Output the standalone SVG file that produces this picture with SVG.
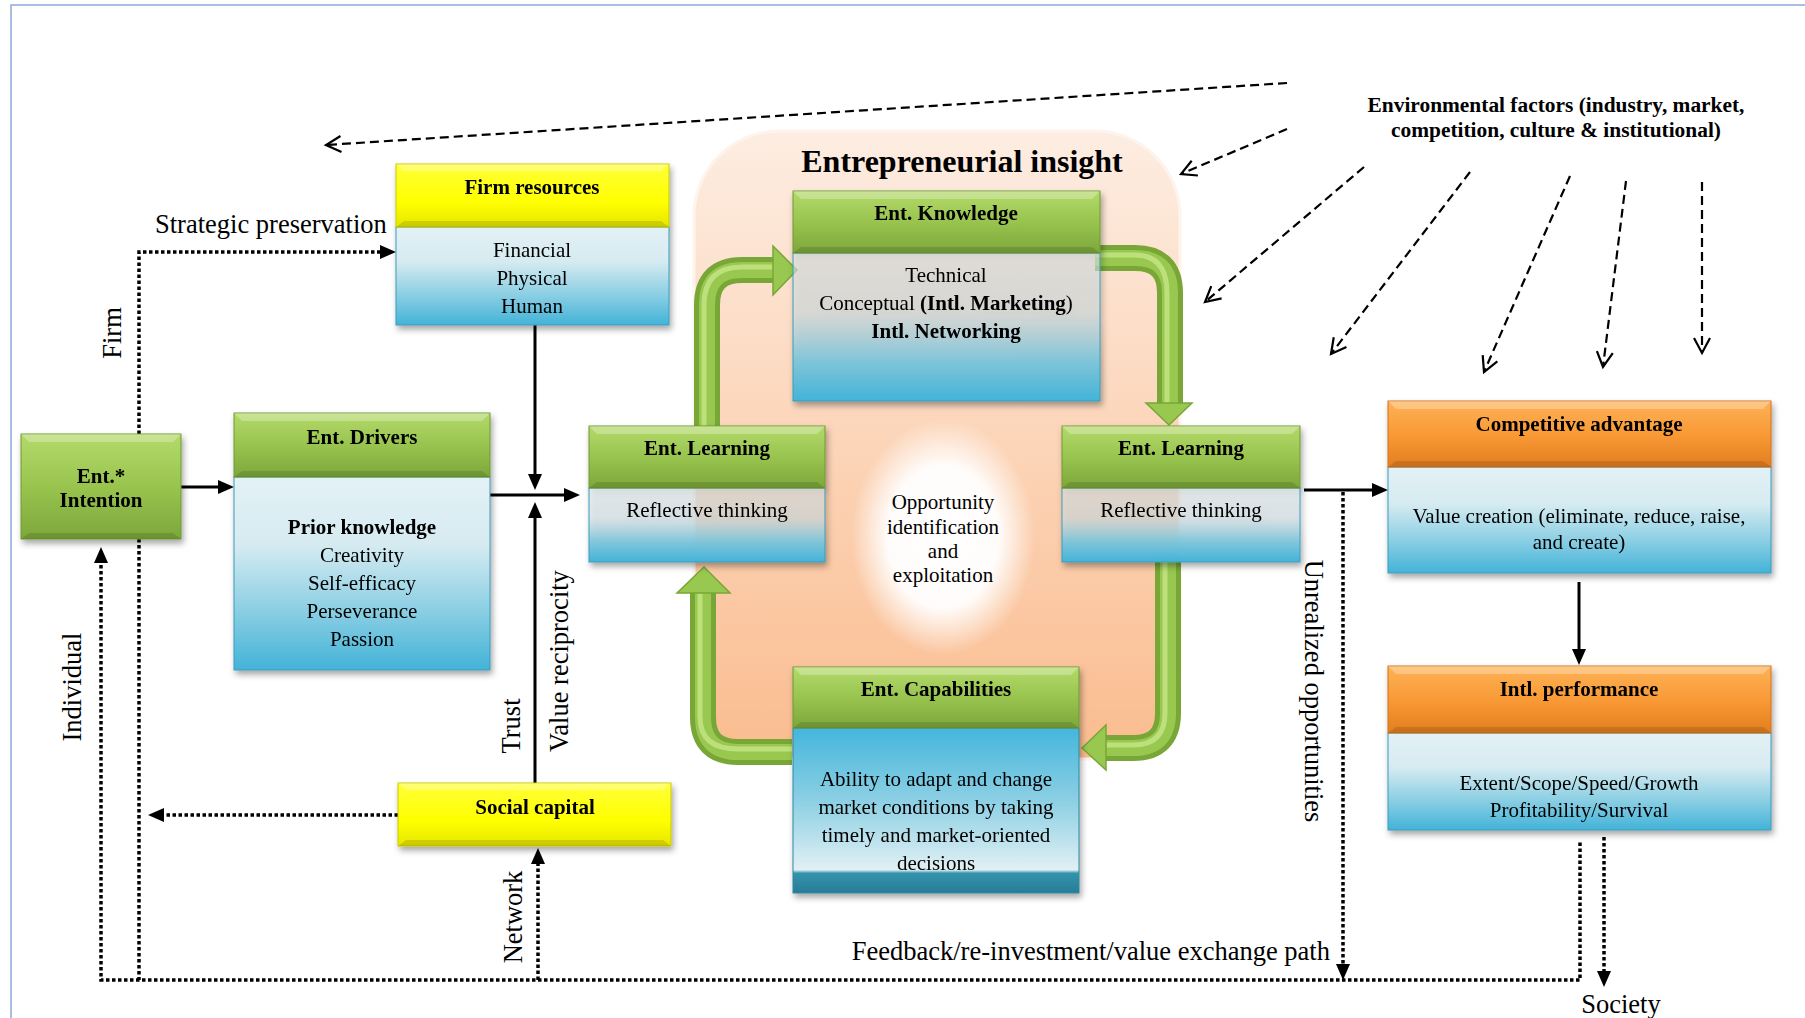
<svg xmlns="http://www.w3.org/2000/svg" width="1805" height="1018" viewBox="0 0 1805 1018">
  <defs>
    <linearGradient id="gGreen" x1="0" y1="0" x2="0" y2="1">
      <stop offset="0" stop-color="#B4DA6A"/>
      <stop offset="0.5" stop-color="#98C44F"/>
      <stop offset="1" stop-color="#7DA73B"/>
    </linearGradient>
    <linearGradient id="gYellow" x1="0" y1="0" x2="0" y2="1">
      <stop offset="0" stop-color="#FFFF3A"/>
      <stop offset="0.6" stop-color="#FFFF00"/>
      <stop offset="1" stop-color="#E6E600"/>
    </linearGradient>
    <linearGradient id="gOrange" x1="0" y1="0" x2="0" y2="1">
      <stop offset="0" stop-color="#FDB257"/>
      <stop offset="0.5" stop-color="#F99A36"/>
      <stop offset="1" stop-color="#E37E20"/>
    </linearGradient>
    <linearGradient id="gBlue" x1="0" y1="0" x2="0" y2="1">
      <stop offset="0" stop-color="#E3F1F5"/>
      <stop offset="0.35" stop-color="#D6EBF1"/>
      <stop offset="0.7" stop-color="#89CEE3"/>
      <stop offset="1" stop-color="#43B3D8"/>
    </linearGradient>
    <linearGradient id="gBlueWarm" x1="0" y1="0" x2="0" y2="1">
      <stop offset="0" stop-color="#DCE6E8" stop-opacity="0.55"/>
      <stop offset="0.4" stop-color="#D2E0E4" stop-opacity="0.6"/>
      <stop offset="0.72" stop-color="#7FC6DB" stop-opacity="0.95"/>
      <stop offset="1" stop-color="#42B3D8"/>
    </linearGradient>
    <linearGradient id="gBlueRev" x1="0" y1="0" x2="0" y2="1">
      <stop offset="0" stop-color="#44B6DC"/>
      <stop offset="0.45" stop-color="#8ED0E4"/>
      <stop offset="0.86" stop-color="#E1F0F4"/>
      <stop offset="0.88" stop-color="#3493AD"/>
      <stop offset="1" stop-color="#287C95"/>
    </linearGradient>
    <linearGradient id="gPeach" x1="0" y1="0" x2="0" y2="1">
      <stop offset="0" stop-color="#FDEDE2"/>
      <stop offset="0.45" stop-color="#FCD7BC"/>
      <stop offset="1" stop-color="#FABC8F"/>
    </linearGradient>
    <radialGradient id="gGlow" cx="0.5" cy="0.5" r="0.5">
      <stop offset="0" stop-color="#FFFFFF" stop-opacity="1"/>
      <stop offset="0.6" stop-color="#FFFFFF" stop-opacity="0.95"/>
      <stop offset="1" stop-color="#FFFFFF" stop-opacity="0"/>
    </radialGradient>
    <filter id="shadow" x="-10%" y="-10%" width="125%" height="135%">
      <feDropShadow dx="2" dy="4" stdDeviation="3" flood-color="#000" flood-opacity="0.35"/>
    </filter>
    <marker id="head" markerUnits="userSpaceOnUse" markerWidth="16" markerHeight="14" viewBox="0 0 16 14" refX="4" refY="7" orient="auto">
      <path d="M0,0 L16,7 L0,14 z" fill="#000"/>
    </marker>
    <marker id="vhead" markerUnits="userSpaceOnUse" markerWidth="20" markerHeight="20" viewBox="0 0 20 20" refX="17" refY="10" orient="auto">
      <path d="M2,2 L17,10 L2,18" fill="none" stroke="#000" stroke-width="2.2"/>
    </marker>
  </defs>
  <style>
    .hdrG { fill: url(#gGreen); stroke: #6F9A33; stroke-width: 1; }
    .hdrY { fill: url(#gYellow); stroke: #C9C900; stroke-width: 1; }
    .hdrO { fill: url(#gOrange); stroke: #D0731C; stroke-width: 1; }
    .body { fill: url(#gBlue); stroke: #3A9CBC; stroke-width: 1; }
    .bodyW { fill: url(#gBlueWarm); stroke: #3A9CBC; stroke-width: 1; }
    .bodyR { fill: url(#gBlueRev); stroke: #2E88A2; stroke-width: 1; }
    .hi { fill: #FFFFFF; opacity: 0.28; }
    .lo { fill: #000000; opacity: 0.12; }
    text { font-family: "Liberation Serif", "Times New Roman", serif; fill: #000; }
    .t { font-size: 21px; font-weight: bold; text-anchor: middle; }
    .b { font-size: 21px; text-anchor: middle; }
    .bb { font-size: 21px; font-weight: bold; text-anchor: middle; }
    .lab { font-size: 26.5px; }
    .solid { fill: none; stroke: #000; stroke-width: 3; }
    .dot { fill: none; stroke: #000; stroke-width: 3.5; stroke-dasharray: 3.5 2.5; }
    .dash { fill: none; stroke: #000; stroke-width: 2.2; stroke-dasharray: 9 5; }
    .rib1 { fill: none; stroke: #78A637; stroke-width: 26; }
    .rib2 { fill: none; stroke: #98C84F; stroke-width: 16; }
    .rib3 { fill: none; stroke: #BDE07C; stroke-width: 5; }
    .ribHead { fill: #98C84F; stroke: #78A637; stroke-width: 1.5; }
  </style>

  <!-- page frame -->
  <path d="M11,1018 V5 H1805" fill="none" stroke="#8EA9DB" stroke-width="1.5"/>

  <!-- entrepreneurial insight container -->
  <g id="insight">
    <rect x="694" y="131" width="486" height="628" rx="85" ry="85" fill="url(#gPeach)" stroke="#FFF4EC" stroke-width="3"/>
    <ellipse cx="943" cy="537" rx="92" ry="118" fill="url(#gGlow)"/>
    <text x="962" y="172" style="font-size:32px;font-weight:bold;text-anchor:middle">Entrepreneurial insight</text>
  </g>

  <!-- learning cycle ribbons -->
  <g id="cycle">
    <path class="rib1" d="M707,430 V305 Q707,270 742,270 H777"/>
    <path class="rib2" d="M707,430 V305 Q707,270 742,270 H777"/>
    <path class="rib3" d="M704,430 V305 Q704,267 742,267 H777"/>
    <polygon class="ribHead" points="773,246 797,270 773,295"/>

    <path class="rib1" d="M1095,258 H1135 Q1170,258 1170,293 V405"/>
    <path class="rib2" d="M1095,258 H1135 Q1170,258 1170,293 V405"/>
    <path class="rib3" d="M1095,255 H1135 Q1167,255 1167,293 V405"/>
    <polygon class="ribHead" points="1146,403 1192,403 1169,425"/>

    <path class="rib1" d="M1168,555 V713 Q1168,748 1133,748 H1104"/>
    <path class="rib2" d="M1168,555 V713 Q1168,748 1133,748 H1104"/>
    <path class="rib3" d="M1165,555 V713 Q1165,745 1133,745 H1104"/>
    <polygon class="ribHead" points="1106,725 1106,770 1082,748"/>

    <path class="rib1" d="M792,752 H738 Q703,752 703,717 V591"/>
    <path class="rib2" d="M792,752 H738 Q703,752 703,717 V591"/>
    <path class="rib3" d="M792,749 H738 Q700,749 700,717 V591"/>
    <polygon class="ribHead" points="677,593 730,593 704,567"/>
  </g>

  <!-- connectors -->
  <g id="connectors">
    <!-- environmental influences -->
    <line class="dash" x1="1287" y1="83" x2="326" y2="145" marker-end="url(#vhead)"/>
    <line class="dash" x1="1287" y1="129" x2="1181" y2="174" marker-end="url(#vhead)"/>
    <line class="dash" x1="1364" y1="167" x2="1205" y2="302" marker-end="url(#vhead)"/>
    <line class="dash" x1="1470" y1="172" x2="1331" y2="354" marker-end="url(#vhead)"/>
    <line class="dash" x1="1570" y1="176" x2="1484" y2="372" marker-end="url(#vhead)"/>
    <line class="dash" x1="1626" y1="181" x2="1603" y2="367" marker-end="url(#vhead)"/>
    <line class="dash" x1="1702" y1="182" x2="1702" y2="353" marker-end="url(#vhead)"/>

    <!-- solid flows -->
    <line class="solid" x1="181" y1="487" x2="222" y2="487" marker-end="url(#head)"/>
    <line class="solid" x1="490" y1="495" x2="568" y2="495" marker-end="url(#head)"/>
    <line class="solid" x1="535" y1="325" x2="535" y2="478" marker-end="url(#head)"/>
    <line class="solid" x1="535" y1="783" x2="535" y2="514" marker-end="url(#head)"/>
    <line class="solid" x1="1304" y1="490" x2="1376" y2="490" marker-end="url(#head)"/>
    <line class="solid" x1="1579" y1="582" x2="1579" y2="653" marker-end="url(#head)"/>

    <!-- dotted feedback paths -->
    <path class="dot" d="M139,434 V252 H384" marker-end="url(#head)"/>
    <line class="dot" x1="139" y1="539" x2="139" y2="980"/>
    <path class="dot" d="M101,559 V980 H1580 V842"/>
    <line class="dot" x1="398" y1="815" x2="160" y2="815" marker-end="url(#head)"/>
    <line class="dot" x1="538" y1="980" x2="538" y2="860" marker-end="url(#head)"/>
    <line class="dot" x1="1343" y1="492" x2="1343" y2="968" marker-end="url(#head)"/>
    <line class="dot" x1="1604" y1="837" x2="1604" y2="975" marker-end="url(#head)"/>
    <line class="solid" x1="101" y1="562" x2="101" y2="559" marker-end="url(#head)"/>

    <!-- connector labels -->
    <text class="lab" x="155" y="233">Strategic preservation</text>
    <text class="lab" transform="translate(121,333) rotate(-90)" text-anchor="middle">Firm</text>
    <text class="lab" transform="translate(81,687) rotate(-90)" text-anchor="middle">Individual</text>
    <text class="lab" transform="translate(520,726) rotate(-90)" text-anchor="middle">Trust</text>
    <text class="lab" transform="translate(568,661) rotate(-90)" text-anchor="middle">Value reciprocity</text>
    <text class="lab" transform="translate(522,917) rotate(-90)" text-anchor="middle">Network</text>
    <text class="lab" transform="translate(1305,691) rotate(90)" text-anchor="middle">Unrealized opportunities</text>
    <text class="lab" x="1330" y="960" text-anchor="end">Feedback/re-investment/value exchange path</text>
    <text class="lab" x="1621" y="1013" text-anchor="middle">Society</text>
    <text x="1556" y="112" style="font-size:21.4px;font-weight:bold;text-anchor:middle">Environmental factors (industry, market,</text>
    <text x="1556" y="137" style="font-size:21.4px;font-weight:bold;text-anchor:middle">competition, culture &amp; institutional)</text>
  </g>

  <!-- opportunity core -->
  <g id="opportunity">
    <text class="b" x="943" y="509">Opportunity</text>
    <text class="b" x="943" y="534">identification</text>
    <text class="b" x="943" y="558">and</text>
    <text class="b" x="943" y="582">exploitation</text>
  </g>

  <g id="intention" filter="url(#shadow)">
    <rect class="hdrG" x="21" y="434" width="160" height="105"/>
    <polygon class="hi" points="21,434 181,434 173,442 29,442"/>
    <polygon class="lo" points="21,539 181,539 173,533 29,533"/>
    <text class="t" x="101" y="483">Ent.*</text>
    <text class="t" x="101" y="507">Intention</text>
  </g>

  <g id="drivers" filter="url(#shadow)">
    <rect class="body" x="234" y="477" width="256" height="193"/>
    <rect class="hdrG" x="234" y="413" width="256" height="64"/>
    <polygon class="hi" points="234,413 490,413 482,421 242,421"/>
    <polygon class="lo" points="234,477 490,477 482,471 242,471"/>
    <text class="t" x="362" y="444">Ent. Drivers</text>
    <text class="bb" x="362" y="534">Prior knowledge</text>
    <text class="b" x="362" y="562">Creativity</text>
    <text class="b" x="362" y="590">Self-efficacy</text>
    <text class="b" x="362" y="618">Perseverance</text>
    <text class="b" x="362" y="646">Passion</text>
  </g>

  <g id="firm-resources" filter="url(#shadow)">
    <rect class="body" x="396" y="227" width="273" height="98"/>
    <rect class="hdrY" x="396" y="164" width="273" height="63"/>
    <polygon class="hi" points="396,164 669,164 661,171 404,171"/>
    <polygon class="lo" points="396,227 669,227 661,221 404,221"/>
    <text class="t" x="532" y="194">Firm resources</text>
    <text class="b" x="532" y="257">Financial</text>
    <text class="b" x="532" y="285">Physical</text>
    <text class="b" x="532" y="313">Human</text>
  </g>

  <g id="social-capital" filter="url(#shadow)">
    <rect class="hdrY" x="398" y="783" width="273" height="63"/>
    <polygon class="hi" points="398,783 671,783 663,790 406,790"/>
    <polygon class="lo" points="398,846 671,846 663,840 406,840"/>
    <text class="t" x="535" y="814">Social capital</text>
  </g>

  <g id="knowledge" filter="url(#shadow)">
    <rect class="bodyW" x="793" y="253" width="307" height="148"/>
    <rect class="hdrG" x="793" y="191" width="307" height="62"/>
    <polygon class="hi" points="793,191 1100,191 1092,199 801,199"/>
    <polygon class="lo" points="793,253 1100,253 1092,247 801,247"/>
    <text class="t" x="946" y="220">Ent. Knowledge</text>
    <text class="b" x="946" y="282">Technical</text>
    <text class="b" x="946" y="310">Conceptual <tspan font-weight="bold">(Intl. Marketing</tspan>)</text>
    <text class="bb" x="946" y="338">Intl. Networking</text>
  </g>

  <g id="learning-left" filter="url(#shadow)">
    <rect class="bodyW" x="589" y="488" width="236" height="74"/>
    <rect class="hdrG" x="589" y="426" width="236" height="62"/>
    <polygon class="hi" points="589,426 825,426 817,434 597,434"/>
    <polygon class="lo" points="589,488 825,488 817,482 597,482"/>
    <text class="t" x="707" y="455">Ent. Learning</text>
    <text class="b" x="707" y="517">Reflective thinking</text>
  </g>

  <g id="learning-right" filter="url(#shadow)">
    <rect class="bodyW" x="1062" y="488" width="238" height="74"/>
    <rect class="hdrG" x="1062" y="426" width="238" height="62"/>
    <polygon class="hi" points="1062,426 1300,426 1292,434 1070,434"/>
    <polygon class="lo" points="1062,488 1300,488 1292,482 1070,482"/>
    <text class="t" x="1181" y="455">Ent. Learning</text>
    <text class="b" x="1181" y="517">Reflective thinking</text>
  </g>

  <g id="capabilities" filter="url(#shadow)">
    <rect class="bodyR" x="793" y="728" width="286" height="165"/>
    <rect class="hdrG" x="793" y="667" width="286" height="61"/>
    <polygon class="hi" points="793,667 1079,667 1071,675 801,675"/>
    <polygon class="lo" points="793,728 1079,728 1071,722 801,722"/>
    <text class="t" x="936" y="696">Ent. Capabilities</text>
    <text class="b" x="936" y="786">Ability to adapt and change</text>
    <text class="b" x="936" y="814">market conditions by taking</text>
    <text class="b" x="936" y="842">timely and market-oriented</text>
    <text class="b" x="936" y="870">decisions</text>
  </g>

  <g id="competitive-advantage" filter="url(#shadow)">
    <rect class="body" x="1388" y="467" width="383" height="106"/>
    <rect class="hdrO" x="1388" y="401" width="383" height="66"/>
    <polygon class="hi" points="1388,401 1771,401 1763,409 1396,409"/>
    <polygon class="lo" points="1388,467 1771,467 1763,461 1396,461"/>
    <text class="t" x="1579" y="431">Competitive advantage</text>
    <text class="b" x="1579" y="523">Value creation (eliminate, reduce, raise,</text>
    <text class="b" x="1579" y="549">and create)</text>
  </g>

  <g id="intl-performance" filter="url(#shadow)">
    <rect class="body" x="1388" y="733" width="383" height="97"/>
    <rect class="hdrO" x="1388" y="666" width="383" height="67"/>
    <polygon class="hi" points="1388,666 1771,666 1763,674 1396,674"/>
    <polygon class="lo" points="1388,733 1771,733 1763,727 1396,727"/>
    <text class="t" x="1579" y="696">Intl. performance</text>
    <text class="b" x="1579" y="790">Extent/Scope/Speed/Growth</text>
    <text class="b" x="1579" y="817">Profitability/Survival</text>
  </g>
</svg>
